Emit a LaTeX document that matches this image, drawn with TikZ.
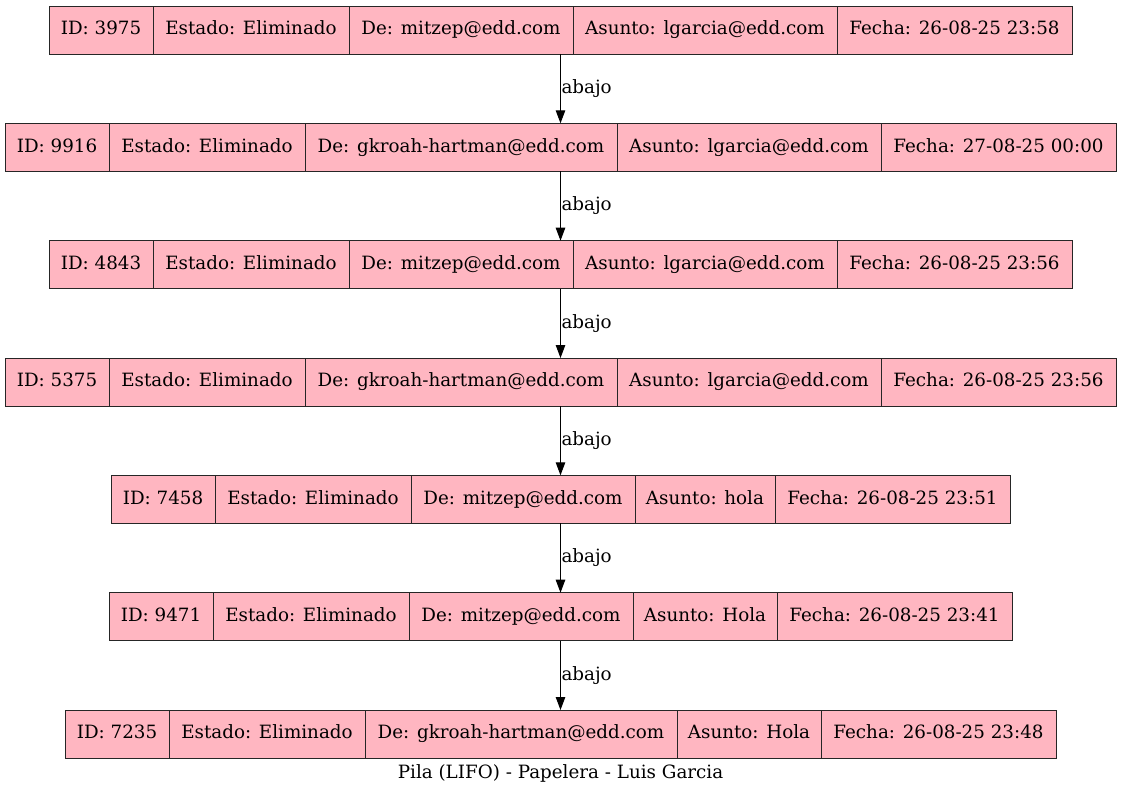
\documentclass[tikz,border=0pt]{standalone}
\usepackage{fontspec}
\setmainfont{DejaVu Serif}
\usetikzlibrary{arrows.meta}
\definecolor{cellpink}{HTML}{FFB6C1}
\newcommand\reffont{\fontsize{18.3}{22}\selectfont}
\tikzset{
  cell/.style={draw=black!85, fill=cellpink, line width=0.9pt, minimum height=48pt,
    inner sep=0pt, outer sep=0pt, anchor=west, font=\reffont,
    text height=13.5pt, text depth=4pt},
  rowbox/.style={minimum height=48pt, minimum width=4pt, inner sep=0pt, outer sep=0pt},
  arr/.style={-{Triangle[length=13pt,width=9.5pt]}, line width=1pt},
  lbl/.style={font=\reffont, anchor=west, inner sep=0.5pt},
  caption/.style={font=\reffont, inner sep=0pt}
}
% name, left x, y, cells
\newcommand\emailrow[4]{%
  \node[rowbox] (#1) at (560.5,#3) {};
  \foreach \w/\t [count=\i, evaluate=\i as \j using int(\i-1)] in {#4}{
    \ifnum\i=1
      \node[cell, minimum width=\w pt] (#1c\i) at (#2,#3) {\t};
    \else
      \node[cell, minimum width=\w pt] (#1c\i) at (#1c\j.east) {\t};
    \fi
  }%
}
\begin{document}
\begin{tikzpicture}[x=1pt,y=-1pt]
\useasboundingbox (0,0) rectangle (1121,799);
\emailrow{r1}{49}{30}{104/{ID: 3975},196/{Estado: Eliminado},224/{De: mitzep@edd.com},264/{Asunto: lgarcia@edd.com},235/{Fecha: 26-08-25 23:58}}
\emailrow{r2}{5}{147.3}{104/{ID: 9916},196/{Estado: Eliminado},312/{De: gkroah-hartman@edd.com},264/{Asunto: lgarcia@edd.com},235/{Fecha: 27-08-25 00:00}}
\emailrow{r3}{49}{264.7}{104/{ID: 4843},196/{Estado: Eliminado},224/{De: mitzep@edd.com},264/{Asunto: lgarcia@edd.com},235/{Fecha: 26-08-25 23:56}}
\emailrow{r4}{5}{382}{104/{ID: 5375},196/{Estado: Eliminado},312/{De: gkroah-hartman@edd.com},264/{Asunto: lgarcia@edd.com},235/{Fecha: 26-08-25 23:56}}
\emailrow{r5}{111}{499.3}{104/{ID: 7458},196/{Estado: Eliminado},224/{De: mitzep@edd.com},140/{Asunto: hola},235/{Fecha: 26-08-25 23:51}}
\emailrow{r6}{109}{616.7}{104/{ID: 9471},196/{Estado: Eliminado},224/{De: mitzep@edd.com},144/{Asunto: Hola},235/{Fecha: 26-08-25 23:41}}
\emailrow{r7}{65}{734}{104/{ID: 7235},196/{Estado: Eliminado},312/{De: gkroah-hartman@edd.com},144/{Asunto: Hola},235/{Fecha: 26-08-25 23:48}}
\foreach \a/\b in {r1/r2,r2/r3,r3/r4,r4/r5,r5/r6,r6/r7}{
  \draw[arr] (\a.south) -- (\b.north) node[lbl, midway] {abajo};
}
\node[caption] (cap) at (560.5,773) {Pila (LIFO) - Papelera - Luis Garcia};
\end{tikzpicture}
\end{document}
